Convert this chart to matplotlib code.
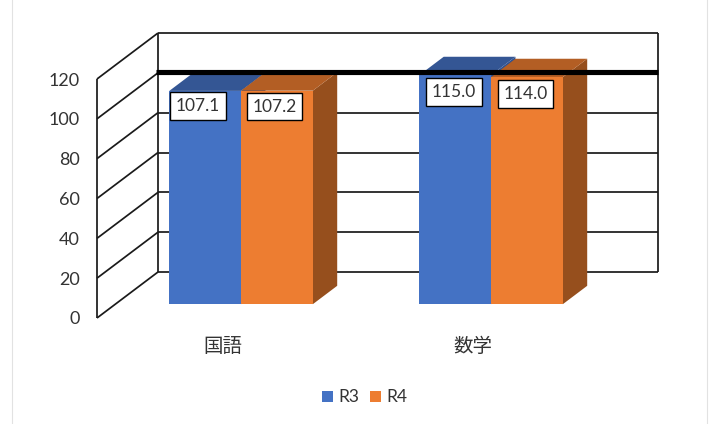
import matplotlib
matplotlib.use("Agg")
import matplotlib.pyplot as plt
from matplotlib.patches import Polygon, Rectangle
from matplotlib.lines import Line2D

categories = ["国語", "数学"]
series_names = ["R3", "R4"]
r3_values = [107.1, 115.0]
r4_values = [107.2, 114.0]
y_ticks = [0, 20, 40, 60, 80, 100, 120]
target_value = 100
label_offsets_px = [[(-7.5, -15), (-2.5, -16)], [(-1, -17), (-1.5, -17)]]

W, H = 715, 424
BLUE, BLUE_TOP, BLUE_SIDE = "#4472C4", "#345694", "#2F5190"
ORANGE, ORANGE_TOP, ORANGE_SIDE = "#ED7D31", "#B35E24", "#964F1D"
LINE = "#1a1a1a"
TEXT = "#333333"
LATIN = "Lato"

fig = plt.figure(figsize=(W / 100, H / 100), dpi=100)
fig.patch.set_facecolor("white")
L, R, B, T = 97, 597, 318, 79
ax = fig.add_axes([L / W, 1 - B / H, (R - L) / W, (B - T) / H])
ax.set_xlim(0, 2)
ax.set_ylim(0, 120)
ax.axis("off")

PXX = 2 / (R - L)
PXY = 120 / (B - T)
DX = 61 * PXX
DY = 46 * PXY


def P(x, v, d):
    return (x + DX * d, v + DY * d)


def line(a, b, lw=1.25, color=LINE, z=1):
    ax.add_line(Line2D([a[0], b[0]], [a[1], b[1]], color=color, lw=lw, zorder=z,
                       clip_on=False, solid_capstyle="butt"))


for v in y_ticks:
    line(P(0, v, 0), P(0, v, 1))
    line(P(0, v, 1), P(2, v, 1))
    ax.text(-17 * PXX, v - 1.5 * PXY, str(v), ha="right", va="center", fontsize=13,
            family=LATIN, color=TEXT)
line(P(0, 0, 0), P(0, 120, 0))
line(P(0, 0, 1), P(0, 120, 1))
line(P(2, 0, 1), P(2, 120, 1))

D0, D1 = 0.3, 0.7
GAP = 0.216
BW = 0.287


def bar(x, v, face, top, side, z=2):
    ax.add_patch(Polygon([P(x + BW, 0, D0), P(x + BW, 0, D1), P(x + BW, v, D1), P(x + BW, v, D0)],
                         fc=side, ec="none", zorder=z, clip_on=False))
    ax.add_patch(Polygon([P(x, v, D0), P(x + BW, v, D0), P(x + BW, v, D1), P(x, v, D1)],
                         fc=top, ec="none", zorder=z, clip_on=False))
    ax.add_patch(Polygon([P(x, 0, D0), P(x + BW, 0, D0), P(x + BW, v, D0), P(x, v, D0)],
                         fc=face, ec="none", zorder=z, clip_on=False))


for i, cat in enumerate(categories):
    x0 = i + GAP
    bar(x0, r3_values[i], BLUE, BLUE_TOP, BLUE_SIDE, 2)
    bar(x0 + BW, r4_values[i], ORANGE, ORANGE_TOP, ORANGE_SIDE, 2.1)
    for x, v, (ox, oy) in (
        (x0, r3_values[i], label_offsets_px[i][0]),
        (x0 + BW, r4_values[i], label_offsets_px[i][1]),
    ):
        px, py = P(x + BW / 2, v, D0)
        ax.annotate(f"{v:.1f}", (px, py), xytext=(ox, oy), textcoords="offset pixels",
                    ha="center", va="center", fontsize=12.5, family=LATIN, color=TEXT, zorder=5,
                    annotation_clip=False,
                    bbox=dict(boxstyle="square,pad=0.33", fc="white", ec="black", lw=1.0))
    ax.text(i + 0.5 + 1 * PXX, -29 * PXY, cat, ha="center", va="center", fontsize=14,
            family=["Noto Sans CJK JP", "DejaVu Sans"], color=TEXT, clip_on=False)

line((P(0, target_value, 1)[0] - 2 * PXX, P(0, target_value, 1)[1] + 0.5 * PXY),
     (P(2, target_value, 1)[0], P(2, target_value, 1)[1] + 0.5 * PXY),
     lw=3.7, color="black", z=4)

for name, col, sx, tx in zip(series_names, [BLUE, ORANGE], [322, 370], [338, 386]):
    fig.add_artist(Rectangle((sx / W, 1 - 401.5 / H), 11 / W, 11 / H, fc=col, ec="none",
                             transform=fig.transFigure))
    fig.text(tx / W, 1 - 396.5 / H, name, ha="left", va="center", fontsize=12.5,
             family=LATIN, color=TEXT)

for xp in (12, 707):
    fig.add_artist(Line2D([xp / W, xp / W], [0, 1], color="#e2e2e2", lw=0.8))

fig.savefig("out.png", dpi=100, facecolor="white")
